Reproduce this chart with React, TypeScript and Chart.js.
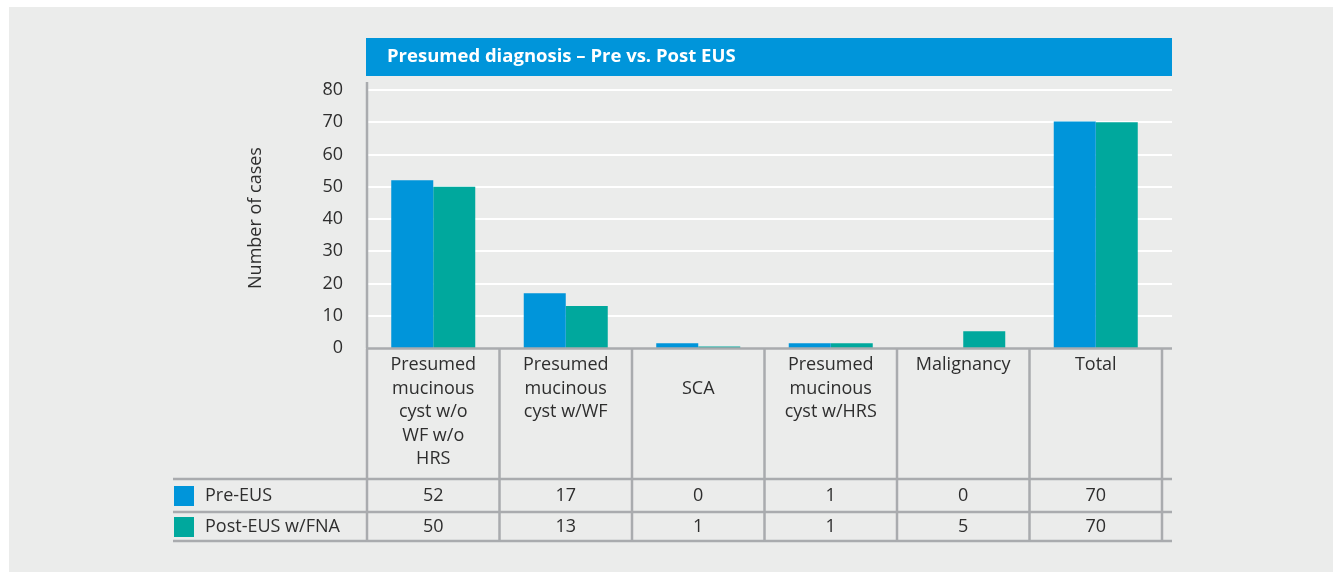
import React, { useEffect, useRef } from "react";
import { Chart, registerables } from "chart.js";

Chart.register(...registerables);

// ---------- data ----------
const categoryLines: string[][] = [
  ["Presumed", "mucinous", "cyst w/o", "WF w/o", "HRS"],
  ["Presumed", "mucinous", "cyst w/WF"],
  ["", "SCA"],
  ["Presumed", "mucinous", "cyst w/HRS"],
  ["Malignancy"],
  ["Total"],
];
const categories = ["Presumed mucinous cyst w/o WF w/o HRS", "Presumed mucinous cyst w/WF", "SCA", "Presumed mucinous cyst w/HRS", "Malignancy", "Total"];
const seriesNames = ["Pre-EUS", "Post-EUS w/FNA"];
// bar heights as drawn in the picture
const preEUSBars = [52, 17, 1.5, 1.5, 0, 70.2];
const postEUSBars = [50, 13, 0.5, 1.5, 5.2, 70];
// values printed in the data table
const preEUSTable = ["52", "17", "0", "1", "0", "70"];
const postEUSTable = ["50", "13", "1", "1", "5", "70"];
const yMin = 0;
const yMax = 80;
const yStep = 10;
const chartTitle = "Presumed diagnosis – Pre vs. Post EUS";
const yAxisTitle = "Number of cases";

// ---------- styles ----------
const BLUE = "#0095da";
const GREEN = "#00a89d";
const PANEL = "#ebeceb";
const LINE = "#a9abae";
const TEXT = "#2e2e2e";
const FONT = "'Open Sans', sans-serif";

const decorPlugin = {
  id: "decor",
  beforeDraw(chart: any) {
    const ctx = chart.ctx;
    ctx.save();
    ctx.fillStyle = PANEL;
    ctx.fillRect(9, 7, 1324, 565);
    // title bar
    ctx.fillStyle = BLUE;
    ctx.fillRect(366, 38, 806, 38);
    ctx.fillStyle = "#ffffff";
    ctx.font = `bold 18.5px ${FONT}`;
    ctx.textBaseline = "middle";
    ctx.textAlign = "left";
    ctx.fillText(chartTitle, 387, 57);
    // y axis title
    ctx.save();
    ctx.translate(256, 218);
    ctx.rotate(-Math.PI / 2);
    ctx.fillStyle = TEXT;
    ctx.font = `18px ${FONT}`;
    ctx.textAlign = "center";
    ctx.textBaseline = "middle";
    ctx.fillText(yAxisTitle, 0, 0);
    ctx.restore();
    ctx.restore();
  },
  beforeDatasetsDraw(chart: any) {
    const ctx = chart.ctx;
    const ys = chart.scales.y;
    const area = chart.chartArea;
    ctx.save();
    ctx.strokeStyle = "#ffffff";
    ctx.lineWidth = 2;
    for (let v = yMin + yStep; v <= yMax; v += yStep) {
      const y = Math.round(ys.getPixelForValue(v));
      ctx.beginPath();
      ctx.moveTo(area.left + 1, y);
      ctx.lineTo(1172, y);
      ctx.stroke();
    }
    ctx.restore();
  },
  afterDatasetsDraw(chart: any) {
    const ctx = chart.ctx;
    const xs = chart.scales.x;
    const area = chart.chartArea;
    const n = categories.length;
    const w = xs.getPixelForValue(1) - xs.getPixelForValue(0);
    const bounds: number[] = [];
    for (let i = 0; i < n; i++) bounds.push(xs.getPixelForValue(i) - w / 2);
    bounds.push(xs.getPixelForValue(n - 1) + w / 2);

    ctx.save();
    ctx.strokeStyle = LINE;
    ctx.lineWidth = 2.5;
    // y axis line
    ctx.beginPath();
    ctx.moveTo(area.left, 82);
    ctx.lineTo(area.left, area.bottom);
    ctx.stroke();
    // x axis / table top line
    const top = area.bottom + 0.5;
    ctx.beginPath();
    ctx.moveTo(area.left - 1, top);
    ctx.lineTo(1172, top);
    ctx.stroke();
    const rowLines = [479, 512, 541];
    for (const y of rowLines) {
      ctx.beginPath();
      ctx.moveTo(173, y);
      ctx.lineTo(1172, y);
      ctx.stroke();
    }
    for (const x of bounds) {
      ctx.beginPath();
      ctx.moveTo(x, top);
      ctx.lineTo(x, 542);
      ctx.stroke();
    }

    // category labels
    ctx.fillStyle = TEXT;
    ctx.font = `18px ${FONT}`;
    ctx.textAlign = "center";
    ctx.textBaseline = "middle";
    categoryLines.forEach((lines, i) => {
      const cx = xs.getPixelForValue(i);
      lines.forEach((t, k) => {
        if (t) ctx.fillText(t, cx, 365 + k * 23.5);
      });
    });
    // table values
    const rows = [preEUSTable, postEUSTable];
    const rowY = [496, 527];
    rows.forEach((vals, r) => {
      vals.forEach((v, i) => {
        ctx.fillText(v, xs.getPixelForValue(i), rowY[r]);
      });
    });
    // legend
    const colors = [BLUE, GREEN];
    ctx.textAlign = "left";
    seriesNames.forEach((name, r) => {
      ctx.fillStyle = colors[r];
      ctx.fillRect(174, rowY[r] - 10, 20, 20);
      ctx.fillStyle = TEXT;
      ctx.fillText(name, 205, rowY[r]);
    });
    ctx.restore();
  },
};

export default function App() {
  const ref = useRef<HTMLCanvasElement | null>(null);
  useEffect(() => {
    if (!ref.current) return;
    const chart = new Chart(ref.current, {
      type: "bar",
      data: {
        labels: categories,
        datasets: [
          { label: seriesNames[0], data: preEUSBars, backgroundColor: BLUE, borderWidth: 0 },
          { label: seriesNames[1], data: postEUSBars, backgroundColor: GREEN, borderWidth: 0 },
        ],
      },
      options: {
        animation: false,
        responsive: false,
        devicePixelRatio: 1,
        layout: { padding: { left: 0, right: 173, top: 90, bottom: 224 } },
        datasets: { bar: { categoryPercentage: 0.634, barPercentage: 1 } },
        plugins: { legend: { display: false }, tooltip: { enabled: false }, title: { display: false } },
        scales: {
          x: { type: "category", display: false, offset: true, grid: { display: false } },
          y: {
            min: yMin,
            max: yMax,
            grid: { display: false, drawTicks: false },
            border: { display: false },
            ticks: { stepSize: yStep, padding: 24, color: TEXT, font: { family: FONT, size: 18 } },
            afterFit: (scale: any) => {
              scale.width = 367;
            },
          },
        },
      },
      plugins: [decorPlugin],
    } as any);
    return () => chart.destroy();
  }, []);
  return (
    <div style={{ position: "absolute", left: 0, top: 0, width: 1335, height: 572 }}>
      <canvas ref={ref} width={1335} height={572} style={{ display: "block" }} />
    </div>
  );
}
